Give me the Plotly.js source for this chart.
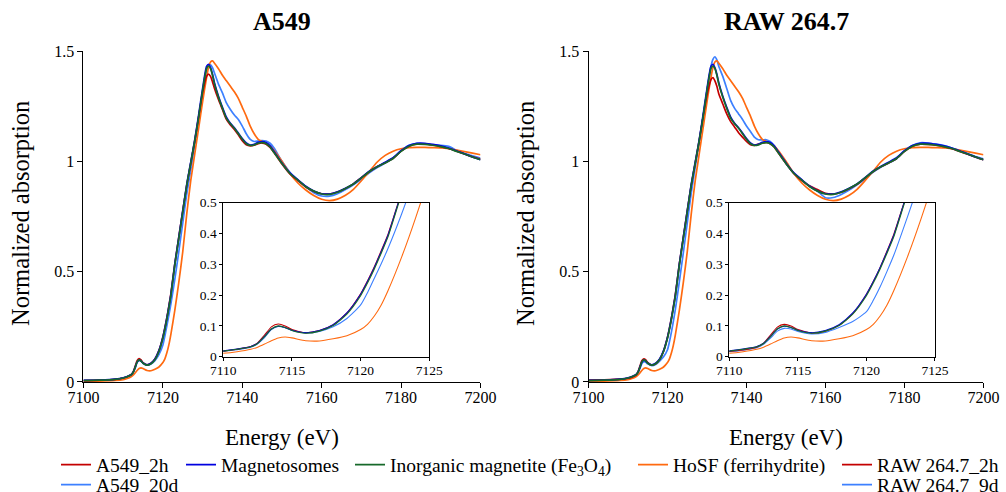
<!DOCTYPE html>
<html>
<head>
<meta charset="utf-8">
<script src="https://cdn.plot.ly/plotly-3.0.1.min.js"></script>
<style>html,body{margin:0;padding:0;background:#fff;}#chart{width:1006px;height:492px;}</style>
</head>
<body>
<div id="chart"></div>
<script>
const energy = [7100,7104,7108,7110,7111,7112,7112.5,7113,7113.5,7114,7114.5,7115,7116,7117,7118,7119,7120,7120.5,7121,7121.5,7122,7123,7124,7125,7126,7127,7128,7129,7130,7131,7131.5,7132,7132.5,7133,7134,7135,7136,7137,7138,7139,7140,7141,7142,7143,7144,7145,7146,7147,7148,7150,7152,7154,7156,7158,7160,7162,7164,7166,7168,7170,7172,7174,7176,7178,7180,7182,7184,7186,7188,7190,7192,7194,7196,7198,7200];

const magnetite = [0.006,0.008,0.012,0.018,0.024,0.032,0.043,0.065,0.090,0.100,0.095,0.085,0.076,0.083,0.101,0.138,0.198,0.239,0.285,0.336,0.39,0.53,0.65,0.77,0.89,0.99,1.09,1.20,1.32,1.42,1.432,1.42,1.39,1.35,1.29,1.24,1.195,1.17,1.15,1.125,1.10,1.08,1.072,1.074,1.082,1.085,1.08,1.065,1.04,0.99,0.945,0.915,0.885,0.865,0.852,0.85,0.86,0.877,0.897,0.925,0.953,0.975,0.993,1.013,1.045,1.068,1.078,1.077,1.073,1.067,1.058,1.045,1.033,1.02,1.008];

const magnetosomes = [0.007,0.009,0.013,0.019,0.025,0.033,0.044,0.066,0.090,0.099,0.095,0.086,0.078,0.085,0.104,0.142,0.203,0.244,0.29,0.341,0.395,0.535,0.655,0.775,0.895,0.995,1.095,1.21,1.33,1.43,1.44,1.425,1.395,1.355,1.295,1.245,1.2,1.172,1.152,1.128,1.103,1.083,1.074,1.077,1.086,1.09,1.085,1.07,1.045,0.993,0.948,0.917,0.887,0.866,0.853,0.852,0.862,0.878,0.898,0.926,0.955,0.977,0.996,1.016,1.048,1.072,1.082,1.082,1.077,1.07,1.06,1.047,1.034,1.02,1.008];

const hosf = [0.003,0.004,0.007,0.011,0.016,0.024,0.031,0.041,0.052,0.061,0.064,0.061,0.052,0.051,0.058,0.068,0.088,0.105,0.132,0.168,0.215,0.325,0.45,0.59,0.76,0.91,1.03,1.15,1.27,1.38,1.425,1.45,1.455,1.445,1.42,1.39,1.365,1.34,1.315,1.285,1.245,1.205,1.16,1.125,1.10,1.09,1.082,1.07,1.05,1.0,0.945,0.902,0.87,0.845,0.828,0.822,0.829,0.846,0.873,0.912,0.954,0.997,1.027,1.046,1.057,1.062,1.063,1.063,1.062,1.061,1.057,1.051,1.044,1.037,1.03];

const a549_2h = [0.006,0.008,0.012,0.018,0.024,0.033,0.045,0.07,0.097,0.106,0.1,0.088,0.078,0.085,0.104,0.142,0.204,0.246,0.292,0.344,0.398,0.535,0.655,0.775,0.89,0.99,1.09,1.2,1.31,1.385,1.395,1.385,1.36,1.33,1.28,1.235,1.19,1.165,1.145,1.12,1.093,1.075,1.07,1.073,1.08,1.083,1.078,1.063,1.04,0.988,0.943,0.913,0.884,0.864,0.853,0.852,0.861,0.877,0.898,0.926,0.953,0.976,0.994,1.014,1.046,1.069,1.079,1.079,1.074,1.067,1.058,1.046,1.033,1.02,1.01];

const a549_20d = [0.006,0.008,0.012,0.018,0.023,0.031,0.042,0.062,0.088,0.098,0.094,0.085,0.077,0.082,0.097,0.124,0.168,0.208,0.255,0.302,0.352,0.465,0.59,0.72,0.85,0.96,1.07,1.19,1.31,1.41,1.435,1.437,1.425,1.4,1.35,1.31,1.265,1.235,1.21,1.19,1.16,1.125,1.1,1.09,1.092,1.094,1.092,1.082,1.06,1.0,0.95,0.915,0.885,0.858,0.843,0.842,0.853,0.872,0.894,0.92,0.948,0.972,0.992,1.015,1.048,1.073,1.082,1.079,1.074,1.073,1.068,1.05,1.035,1.025,1.015];

const raw_2h = [0.008,0.01,0.013,0.017,0.022,0.031,0.044,0.07,0.096,0.105,0.1,0.088,0.077,0.083,0.102,0.14,0.203,0.244,0.29,0.343,0.398,0.535,0.655,0.775,0.89,0.99,1.09,1.2,1.3,1.37,1.38,1.365,1.34,1.305,1.26,1.215,1.18,1.155,1.13,1.11,1.09,1.075,1.072,1.078,1.083,1.086,1.08,1.065,1.04,0.99,0.945,0.913,0.888,0.872,0.855,0.852,0.86,0.876,0.896,0.924,0.952,0.975,0.993,1.013,1.045,1.068,1.078,1.077,1.073,1.066,1.057,1.045,1.032,1.019,1.007];

const raw_9d = [0.007,0.009,0.012,0.016,0.021,0.029,0.04,0.06,0.083,0.092,0.09,0.082,0.074,0.079,0.095,0.114,0.146,0.183,0.227,0.277,0.33,0.455,0.585,0.72,0.855,0.97,1.085,1.2,1.32,1.43,1.462,1.474,1.46,1.43,1.385,1.33,1.275,1.24,1.215,1.19,1.16,1.135,1.11,1.098,1.097,1.098,1.09,1.072,1.045,0.99,0.945,0.915,0.888,0.864,0.835,0.836,0.85,0.87,0.894,0.92,0.95,0.973,0.992,1.012,1.047,1.072,1.084,1.083,1.078,1.071,1.06,1.048,1.034,1.022,1.012];

const mainTicksX = [7100,7120,7140,7160,7180,7200];
const mainTicksY = [0,0.5,1,1.5];
const insetTicksX = [7110,7115,7120,7125];
const insetTicksY = [0,0.1,0.2,0.3,0.4,0.5];
const panelTitles = ['A549','RAW 264.7'];

const COL = {red:'#c40000', blue:'#0000e0', green:'#17692a', orange:'#ff6a10', light:'#3d80ff'};
const FONT = 'Liberation Serif';

const panels = [
  {xa:'x', ya:'y', xi:'x2', yi:'y2', s2h:{n:'A549_2h', y:a549_2h, lg:'legend'}, sl:{n:'A549_20d', y:a549_20d, lg:'legend6'}, refLegend:true},
  {xa:'x3', ya:'y3', xi:'x4', yi:'y4', s2h:{n:'RAW 264.7_2h', y:raw_2h, lg:'legend5'}, sl:{n:'RAW 264.7_9d', y:raw_9d, lg:'legend7'}, refLegend:false}
];

const traces = [];
panels.forEach(p => {
  [[p.xa,p.ya,1.7,true],[p.xi,p.yi,1.1,false]].forEach(([xa,ya,w,isMain]) => {
    const list = [
      {n:p.sl.n, y:p.sl.y, c:COL.light, lg:p.sl.lg, show:isMain},
      {n:'HoSF (ferrihydrite)', y:hosf, c:COL.orange, lg:'legend4', show:isMain && p.refLegend},
      {n:p.s2h.n, y:p.s2h.y, c:COL.red, lg:p.s2h.lg, show:isMain},
      {n:'Magnetosomes', y:magnetosomes, c:COL.blue, lg:'legend2', show:isMain && p.refLegend},
      {n:'Inorganic magnetite (Fe<sub>3</sub>O<sub>4</sub>)', y:magnetite, c:COL.green, lg:'legend3', show:isMain && p.refLegend}
    ];
    list.forEach(s => traces.push({
      type:'scatter', mode:'lines', x:energy, y:s.y, name:s.n,
      xaxis:xa, yaxis:ya, legend:s.lg, showlegend:s.show,
      line:{color:s.c, width:w, shape:'spline', smoothing:0.6},
      hoverinfo:'skip'
    }));
  });
});

function mainX(dom, anchor){ return {domain:dom, anchor:anchor, range:[7100,7200], tickvals:mainTicksX, showline:true, linecolor:'#000', linewidth:1, ticks:'outside', ticklen:5, tickwidth:1, tickcolor:'#000', ticklabelstandoff:-4, showgrid:false, zeroline:false, tickfont:{family:FONT, size:16, color:'#000'}, fixedrange:true}; }
function mainY(anchor){ return {domain:[0.2236,0.8963], anchor:anchor, range:[0,1.5], tickvals:mainTicksY, showline:true, linecolor:'#000', linewidth:1, ticks:'outside', ticklen:5, tickwidth:1, tickcolor:'#000', showgrid:false, zeroline:false, tickfont:{family:FONT, size:16, color:'#000'}, fixedrange:true}; }
function insX(dom, anchor){ return {domain:dom, anchor:anchor, range:[7110,7125], tickvals:insetTicksX, showline:true, mirror:true, linecolor:'#000', linewidth:1, ticks:'outside', ticklen:3, tickwidth:1, tickcolor:'#000', ticklabelstandoff:-2, showgrid:false, zeroline:false, tickfont:{family:FONT, size:13.5, color:'#000'}, fixedrange:true}; }
function insY(anchor){ return {domain:[0.2750,0.5880], anchor:anchor, range:[0,0.5], tickvals:insetTicksY, showline:true, mirror:true, linecolor:'#000', linewidth:1, ticks:'outside', ticklen:3, tickwidth:1, tickcolor:'#000', showgrid:false, zeroline:false, tickfont:{family:FONT, size:13.5, color:'#000'}, fixedrange:true}; }

function leg(xpx, ypx){ return {xref:'container', yref:'container', x:xpx/1006, y:(492-ypx)/492, xanchor:'left', yanchor:'middle', orientation:'v', bgcolor:'rgba(0,0,0,0)', borderwidth:0, font:{family:FONT, size:19.5, color:'#000'}, tracegroupgap:0}; }

const axFont = {family:FONT, size:23, color:'#000'};
const yTitleFont = {family:FONT, size:24.5, color:'#000'};
const titleFont = {family:FONT, size:26, color:'#000', weight:'bold'};
const layout = {
  width:1006, height:492, autosize:false,
  margin:{l:0, r:0, t:0, b:0, pad:0, autoexpand:false},
  paper_bgcolor:'#fff', plot_bgcolor:'rgba(0,0,0,0)',
  xaxis: mainX([0.0830,0.4776],'y'), yaxis: mainY('x'),
  xaxis2: insX([0.2220,0.4267],'y2'), yaxis2: insY('x2'),
  xaxis3: mainX([0.5850,0.9776],'y3'), yaxis3: mainY('x3'),
  xaxis4: insX([0.7250,0.9294],'y4'), yaxis4: insY('x4'),
  legend: leg(56,465), legend2: leg(181,465), legend3: leg(350,465), legend4: leg(633,465), legend5: leg(837,465),
  legend6: leg(56,485), legend7: leg(837,485),
  annotations: [
    {text:panelTitles[0], xref:'paper', yref:'paper', x:282/1006, y:(492-22)/492, xanchor:'center', yanchor:'middle', showarrow:false, font:titleFont},
    {text:panelTitles[1], xref:'paper', yref:'paper', x:786/1006, y:(492-22)/492, xanchor:'center', yanchor:'middle', showarrow:false, font:titleFont},
    {text:'Normalized absorption', xref:'paper', yref:'paper', x:20/1006, y:(492-214)/492, xanchor:'center', yanchor:'middle', textangle:-90, showarrow:false, font:yTitleFont},
    {text:'Normalized absorption', xref:'paper', yref:'paper', x:525/1006, y:(492-214)/492, xanchor:'center', yanchor:'middle', textangle:-90, showarrow:false, font:yTitleFont},
    {text:'Energy (eV)', xref:'paper', yref:'paper', x:282/1006, y:(492-437)/492, xanchor:'center', yanchor:'middle', showarrow:false, font:axFont},
    {text:'Energy (eV)', xref:'paper', yref:'paper', x:786/1006, y:(492-437)/492, xanchor:'center', yanchor:'middle', showarrow:false, font:axFont}
  ]
};

Plotly.newPlot('chart', traces, layout, {displayModeBar:false, staticPlot:true});
</script>
</body>
</html>
